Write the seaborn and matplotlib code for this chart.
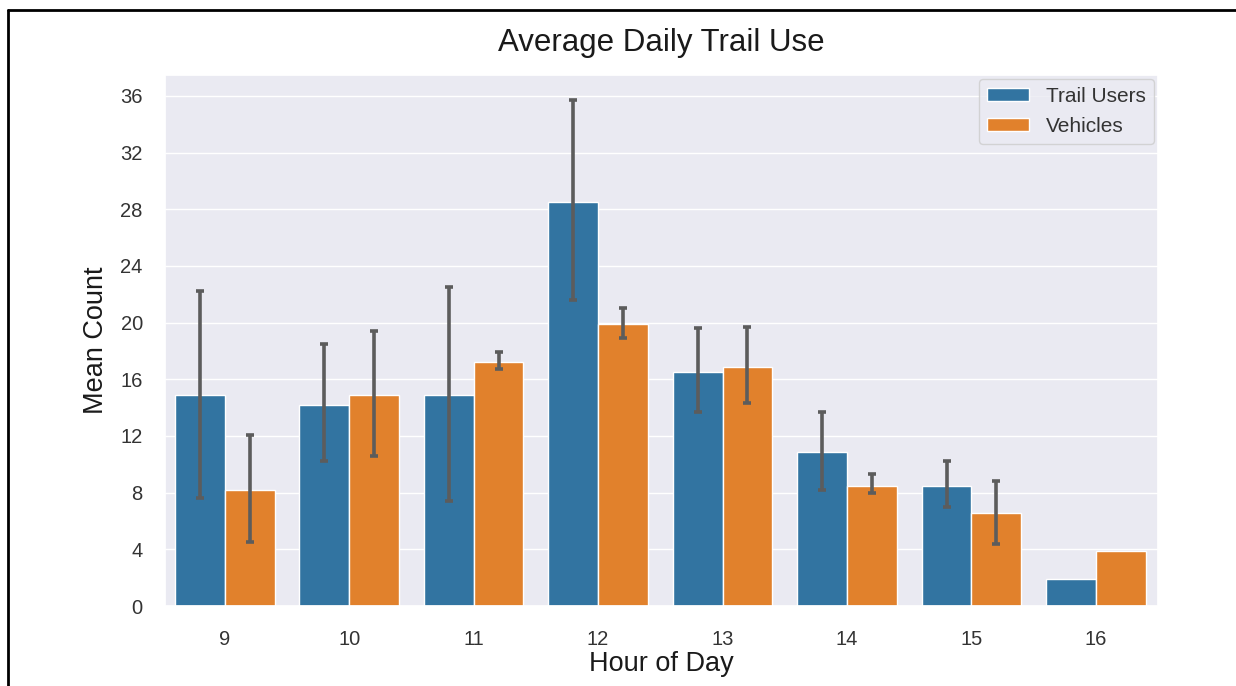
import matplotlib
matplotlib.use("Agg")
import matplotlib.pyplot as plt
from matplotlib.lines import Line2D
import numpy as np
import pandas as pd
import seaborn as sns

# Mean hourly counts with the low/high bounds of their confidence intervals
hours = [9, 10, 11, 12, 13, 14, 15, 16]
trail_users = [14.9, 14.2, 14.9, 28.5, 16.5, 10.9, 8.5, 1.9]
trail_users_lo = [7.6, 10.2, 7.4, 21.6, 13.7, 8.2, 7.0, 1.9]
trail_users_hi = [22.2, 18.5, 22.5, 35.7, 19.6, 13.7, 10.2, 1.9]
vehicles = [8.2, 14.9, 17.2, 19.9, 16.9, 8.5, 6.6, 3.9]
vehicles_lo = [4.5, 10.6, 16.7, 18.9, 14.3, 8.0, 4.4, 3.9]
vehicles_hi = [12.1, 19.4, 17.9, 21.0, 19.7, 9.3, 8.8, 3.9]
series = ["Trail Users", "Vehicles"]
colors = ["#3274A1", "#E1812C"]

df = pd.DataFrame({
    "Hour": [str(h) for h in hours] * 2,
    "Count": trail_users + vehicles,
    "Type": [series[0]] * len(hours) + [series[1]] * len(hours),
})

sns.set_theme(style="darkgrid")
plt.rcParams["font.family"] = ["Liberation Sans", "DejaVu Sans"]

fig = plt.figure(figsize=(12.36, 6.86), dpi=100)
ax = fig.add_axes([0.1335, 0.1166, 0.8035, 0.7745])

sns.barplot(data=df, x="Hour", y="Count", hue="Type", errorbar=None,
            order=[str(h) for h in hours], hue_order=series,
            palette=colors, saturation=1, ax=ax)

# Confidence-interval whiskers on each bar
n = len(hours)
means = [trail_users, vehicles]
los = [trail_users_lo, vehicles_lo]
his = [trail_users_hi, vehicles_hi]
for k in range(2):
    patches = ax.patches[k * n:(k + 1) * n]
    xs = [p.get_x() + p.get_width() / 2 for p in patches]
    m = np.array(means[k])
    lo = np.array(los[k])
    hi = np.array(his[k])
    keep = hi > lo
    ax.errorbar(np.array(xs)[keep], m[keep],
                yerr=[m[keep] - lo[keep], hi[keep] - m[keep]],
                fmt="none", ecolor="#5c5c5c", elinewidth=2.6,
                capsize=2.8, capthick=2.6, zorder=3)

ax.set_xlim(-0.48, 7.5)
ax.set_ylim(0, 37.5)
ax.set_yticks(np.arange(0, 37, 4))
ax.tick_params(axis="both", labelsize=14.5, colors="#333333")
ax.tick_params(axis="y", pad=10)
ax.tick_params(axis="x", pad=11)
ax.set_xlabel("Hour of Day", fontsize=19.5, color="#1a1a1a", labelpad=2)
ax.set_ylabel("Mean Count", fontsize=19.5, color="#1a1a1a", labelpad=8)
ax.set_title("Average Daily Trail Use", fontsize=22.5, pad=17, color="#1a1a1a")

leg = ax.legend(loc="upper right", fontsize=15, borderaxespad=0.2,
                handlelength=2.0, handleheight=0.6)
for t in leg.get_texts():
    t.set_color("#333333")

# Frame lines along the top and left edges of the figure
fig.add_artist(Line2D([0.0065, 1.0], [1 - 9.5 / 686, 1 - 9.5 / 686],
                      transform=fig.transFigure, color="black", lw=2))
fig.add_artist(Line2D([0.0065, 0.0065], [0.0, 1 - 9.5 / 686],
                      transform=fig.transFigure, color="black", lw=2))

fig.savefig("out.png", dpi=100)
